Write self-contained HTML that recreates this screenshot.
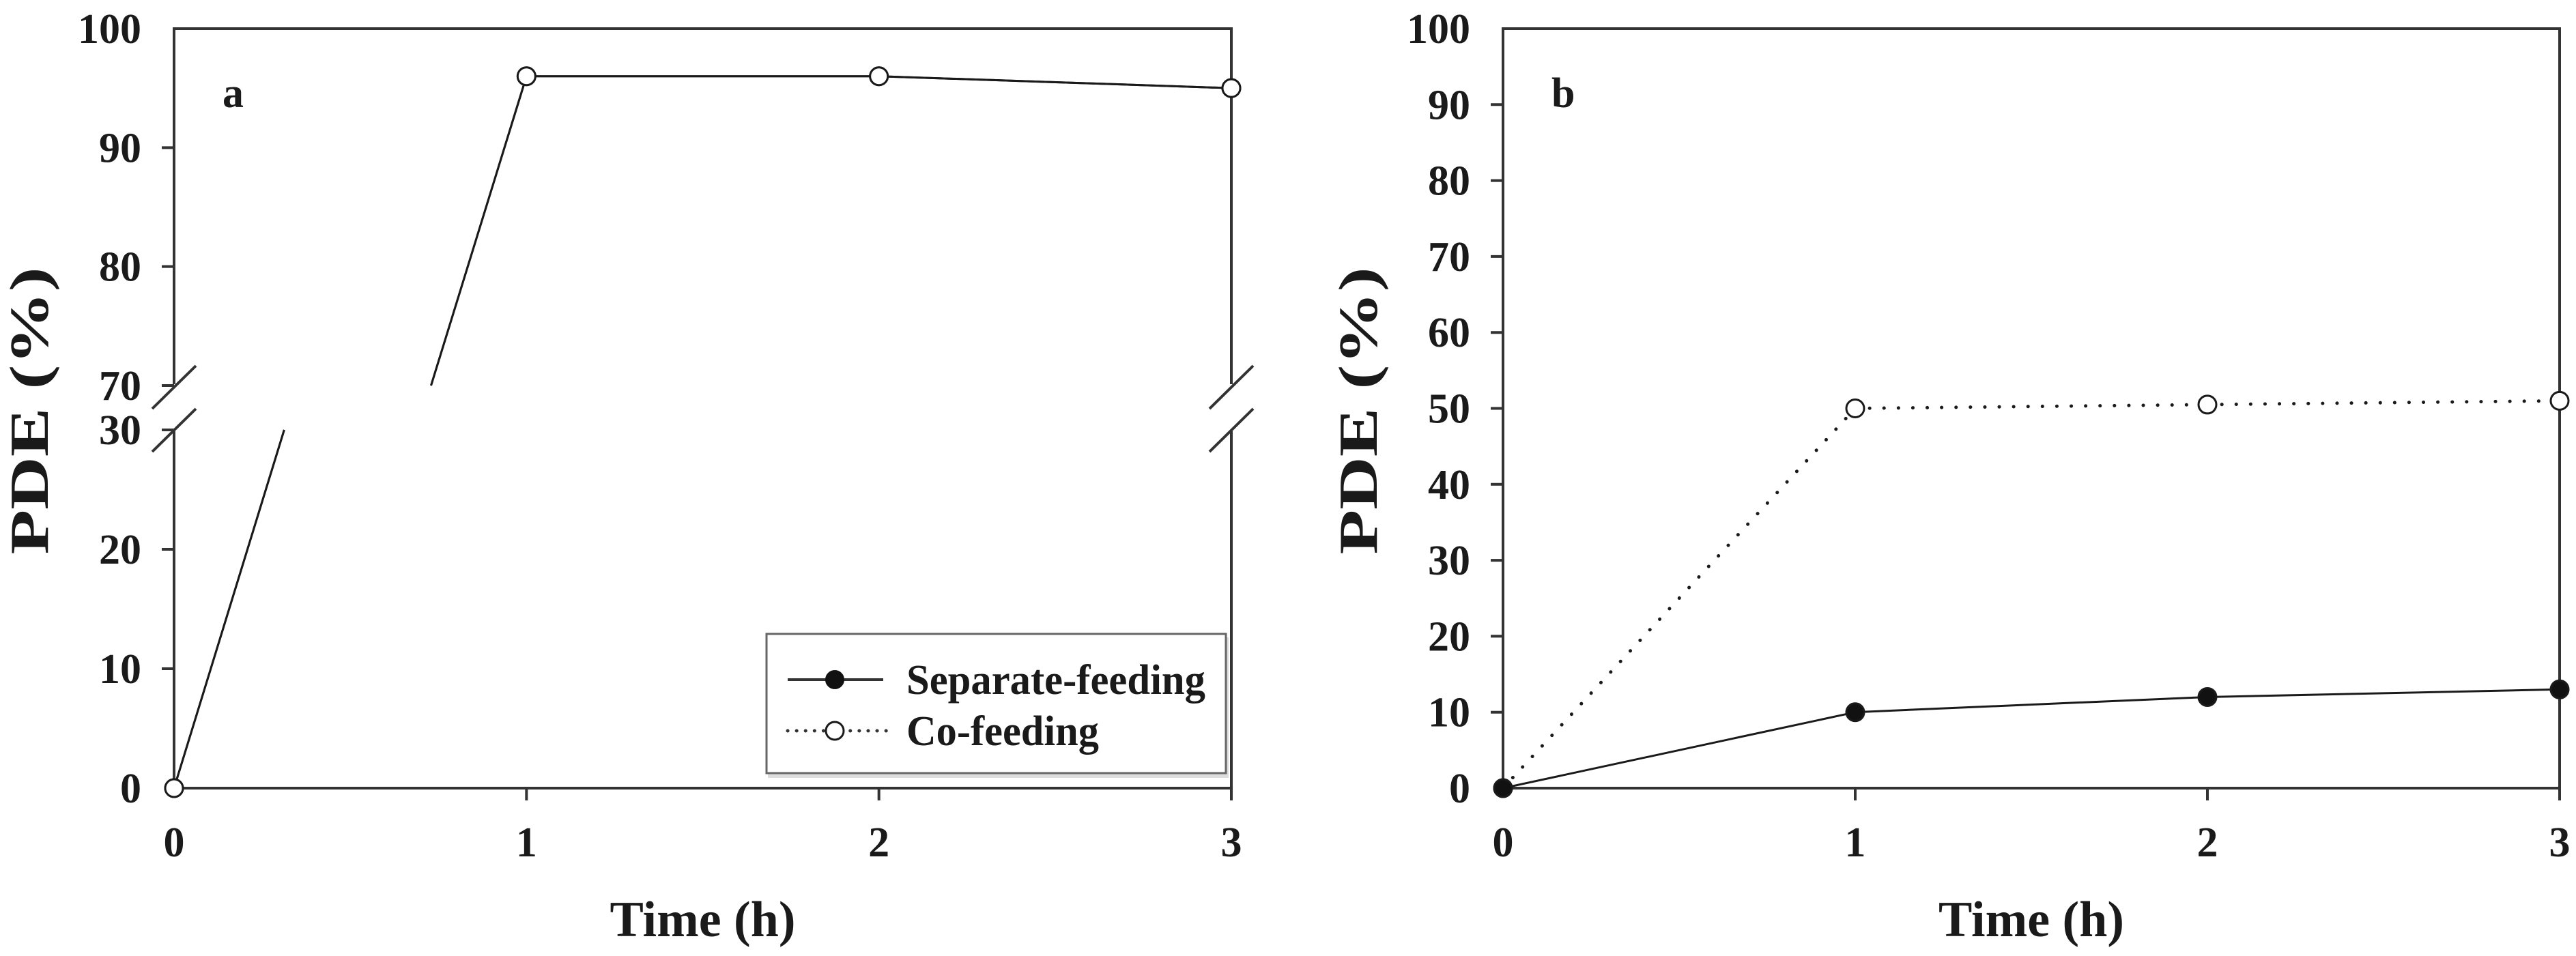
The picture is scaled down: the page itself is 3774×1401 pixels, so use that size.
<!DOCTYPE html>
<html><head><meta charset="utf-8"><style>
html,body{margin:0;padding:0;background:#fff;}
svg{display:block;}
text{font-family:"Liberation Serif",serif;font-weight:bold;fill:#1a1a1a;}
</style></head><body>
<svg id="chart" width="3774" height="1401" viewBox="0 0 3774 1401" xmlns="http://www.w3.org/2000/svg"></svg>
<script>
const times=[0,1,2,3];
const xTicks=["0","1","2","3"];
const aSeparate=[0,96,96,95];
const aCofeed=[0,96,96,95];
const bSeparate=[0,10,12,13];
const bCofeed=[0,50,50.5,51];
const aYTicksLow=[0,10,20,30];
const aYTicksHigh=[70,80,90,100];
const bYTicks=[0,10,20,30,40,50,60,70,80,90,100];

const NS="http://www.w3.org/2000/svg";
const svg=document.getElementById('chart');
function mk(tag,attrs,parent){const e=document.createElementNS(NS,tag);for(const k in attrs)e.setAttribute(k,attrs[k]);(parent||svg).appendChild(e);return e;}

const TOP=42,BOT=1155;
function xScale(L,R){return t=>L+(t-0)/(3-0)*(R-L);}
// panel a broken scale
const aY=v=> v<=30 ? BOT-(v)*(BOT-630)/30 : 565-(v-70)*(565-TOP)/30;
const bY=v=> BOT-v*(BOT-TOP)/100;

function panel(id,L,R,yTickVals,yS,broken,letter){
  const g=mk('g',{});
  
  
  const xs=xScale(L,R);
  const ax={stroke:'#333','stroke-width':4,fill:'none'};
  mk('line',Object.assign({x1:L-2,y1:TOP,x2:R+2,y2:TOP},ax),g);
  const xa=mk('line',Object.assign({x1:L-2,y1:BOT,x2:R+2,y2:BOT},ax),g);
  
  
  if(broken){
    [L,R].forEach(x=>{
      mk('line',Object.assign({x1:x,y1:TOP,x2:x,y2:yS(70)-2},ax),g);
      mk('line',Object.assign({x1:x,y1:yS(30)+2,x2:x,y2:BOT},ax),g);
      [yS(70)+2,yS(30)].forEach(yc=>{
        const bm=mk('line',{x1:x-32,y1:yc+32,x2:x+32,y2:yc-31,stroke:'#333','stroke-width':4},g);
        
        
      });
    });
  } else {
    mk('line',Object.assign({x1:L,y1:TOP,x2:L,y2:BOT},ax),g);
    mk('line',Object.assign({x1:R,y1:TOP,x2:R,y2:BOT},ax),g);
  }
  yTickVals.forEach(v=>{
    const y=yS(v);
    if(v!==100 && v!==0) mk('line',{x1:L-18,y1:y,x2:L,y2:y,stroke:'#333','stroke-width':4},g);
    const t=mk('text',{x:L-48,y:y+21,'font-size':62,'text-anchor':'end'},g);
    t.textContent=String(v);
    
    
  });
  times.forEach((tv,i)=>{
    const x=xs(tv);
    if(i>0) mk('line',{x1:x,y1:BOT,x2:x,y2:BOT+18,stroke:'#333','stroke-width':4},g);
    const t=mk('text',{x:x,y:1255,'font-size':62,'text-anchor':'middle'},g);
    t.textContent=xTicks[i];
    
    
  });
  const xt=mk('text',{x:(L+R)/2,y:1372,'font-size':74,'text-anchor':'middle'},g);
  xt.textContent='Time (h)';
  
  
  const tx=L-185, ty=602;
  const yt=mk('text',{x:tx,y:ty,'font-size':80,'text-anchor':'middle',transform:`rotate(-90 ${tx} ${ty})`,textLength:421,lengthAdjust:'spacingAndGlyphs'},g);
  yt.textContent='PDE (%)';
  
  
  const lt=mk('text',{x:L+71,y:157,'font-size':62,'text-anchor':'start'},g);
  lt.textContent=letter;
  
  
  return {g,xs};
}

function series(p,vals,yS,broken,dotted,filled,name){
  const sg=mk('g',{},p.g);
  
  
  const st={stroke:'#1a1a1a','stroke-width':dotted?5:3,fill:'none','stroke-linecap':dotted?'round':'butt'};
  if(dotted) st['stroke-dasharray']='0.1 21';
  for(let i=0;i<vals.length-1;i++){
    const t0=times[i],t1=times[i+1],v0=vals[i],v1=vals[i+1];
    const pieces=[];
    if(broken){
      const lo=Math.min(v0,v1),hi=Math.max(v0,v1);
      const tAt=v=>t0+(v-v0)/(v1-v0)*(t1-t0);
      if(hi<=30||lo>=70) pieces.push([t0,v0,t1,v1]);
      else {
        if(lo<30) pieces.push([tAt(lo),lo,tAt(30),30]);
        if(hi>70) pieces.push([tAt(70),70,tAt(hi),hi]);
      }
    } else pieces.push([t0,v0,t1,v1]);
    pieces.forEach(pc=>{
      const ln=mk('line',Object.assign({x1:p.xs(pc[0]),y1:yS(pc[1]),x2:p.xs(pc[2]),y2:yS(pc[3])},st),sg);
      
      
    });
  }
  vals.forEach((v,i)=>{
    const c=mk('circle',{cx:p.xs(times[i]),cy:yS(v),r:13,fill:filled?'#111':'#fff',stroke:'#1a1a1a','stroke-width':3},sg);
    
    
  });
}

const pa=panel('a',255,1804,aYTicksLow.concat(aYTicksHigh),aY,true,'a');
series(pa,aSeparate,aY,true,false,true,'separate-feeding-a');
series(pa,aCofeed,aY,true,false,false,'co-feeding-a');

const pb=panel('b',2202,3750,bYTicks,bY,false,'b');
series(pb,bCofeed,bY,false,true,false,'co-feeding-b');
series(pb,bSeparate,bY,false,false,true,'separate-feeding-b');

// legend
const lg=mk('g',{});


mk('rect',{x:1125,y:934,width:675,height:206,fill:'#ddd'},lg);
mk('rect',{x:1123,y:929,width:673,height:204,fill:'#fff',stroke:'#666','stroke-width':3},lg);
const e1=mk('g',{},lg);


mk('line',{x1:1154,y1:996,x2:1294,y2:996,stroke:'#333','stroke-width':4},e1);
mk('circle',{cx:1223,cy:996,r:13,fill:'#111',stroke:'#111','stroke-width':2},e1);
const t1=mk('text',{x:1328,y:1017,'font-size':62,textLength:438,lengthAdjust:'spacingAndGlyphs'},e1);
t1.textContent='Separate-feeding';
const e2=mk('g',{},lg);


mk('line',{x1:1154,y1:1071,x2:1300,y2:1071,stroke:'#333','stroke-width':5,'stroke-dasharray':'0.1 13','stroke-linecap':'round'},e2);
mk('circle',{cx:1223,cy:1071,r:13,fill:'#fff',stroke:'#1a1a1a','stroke-width':3},e2);
const t2=mk('text',{x:1328,y:1092,'font-size':62,textLength:282,lengthAdjust:'spacingAndGlyphs'},e2);
t2.textContent='Co-feeding';
</script>
</body></html>
